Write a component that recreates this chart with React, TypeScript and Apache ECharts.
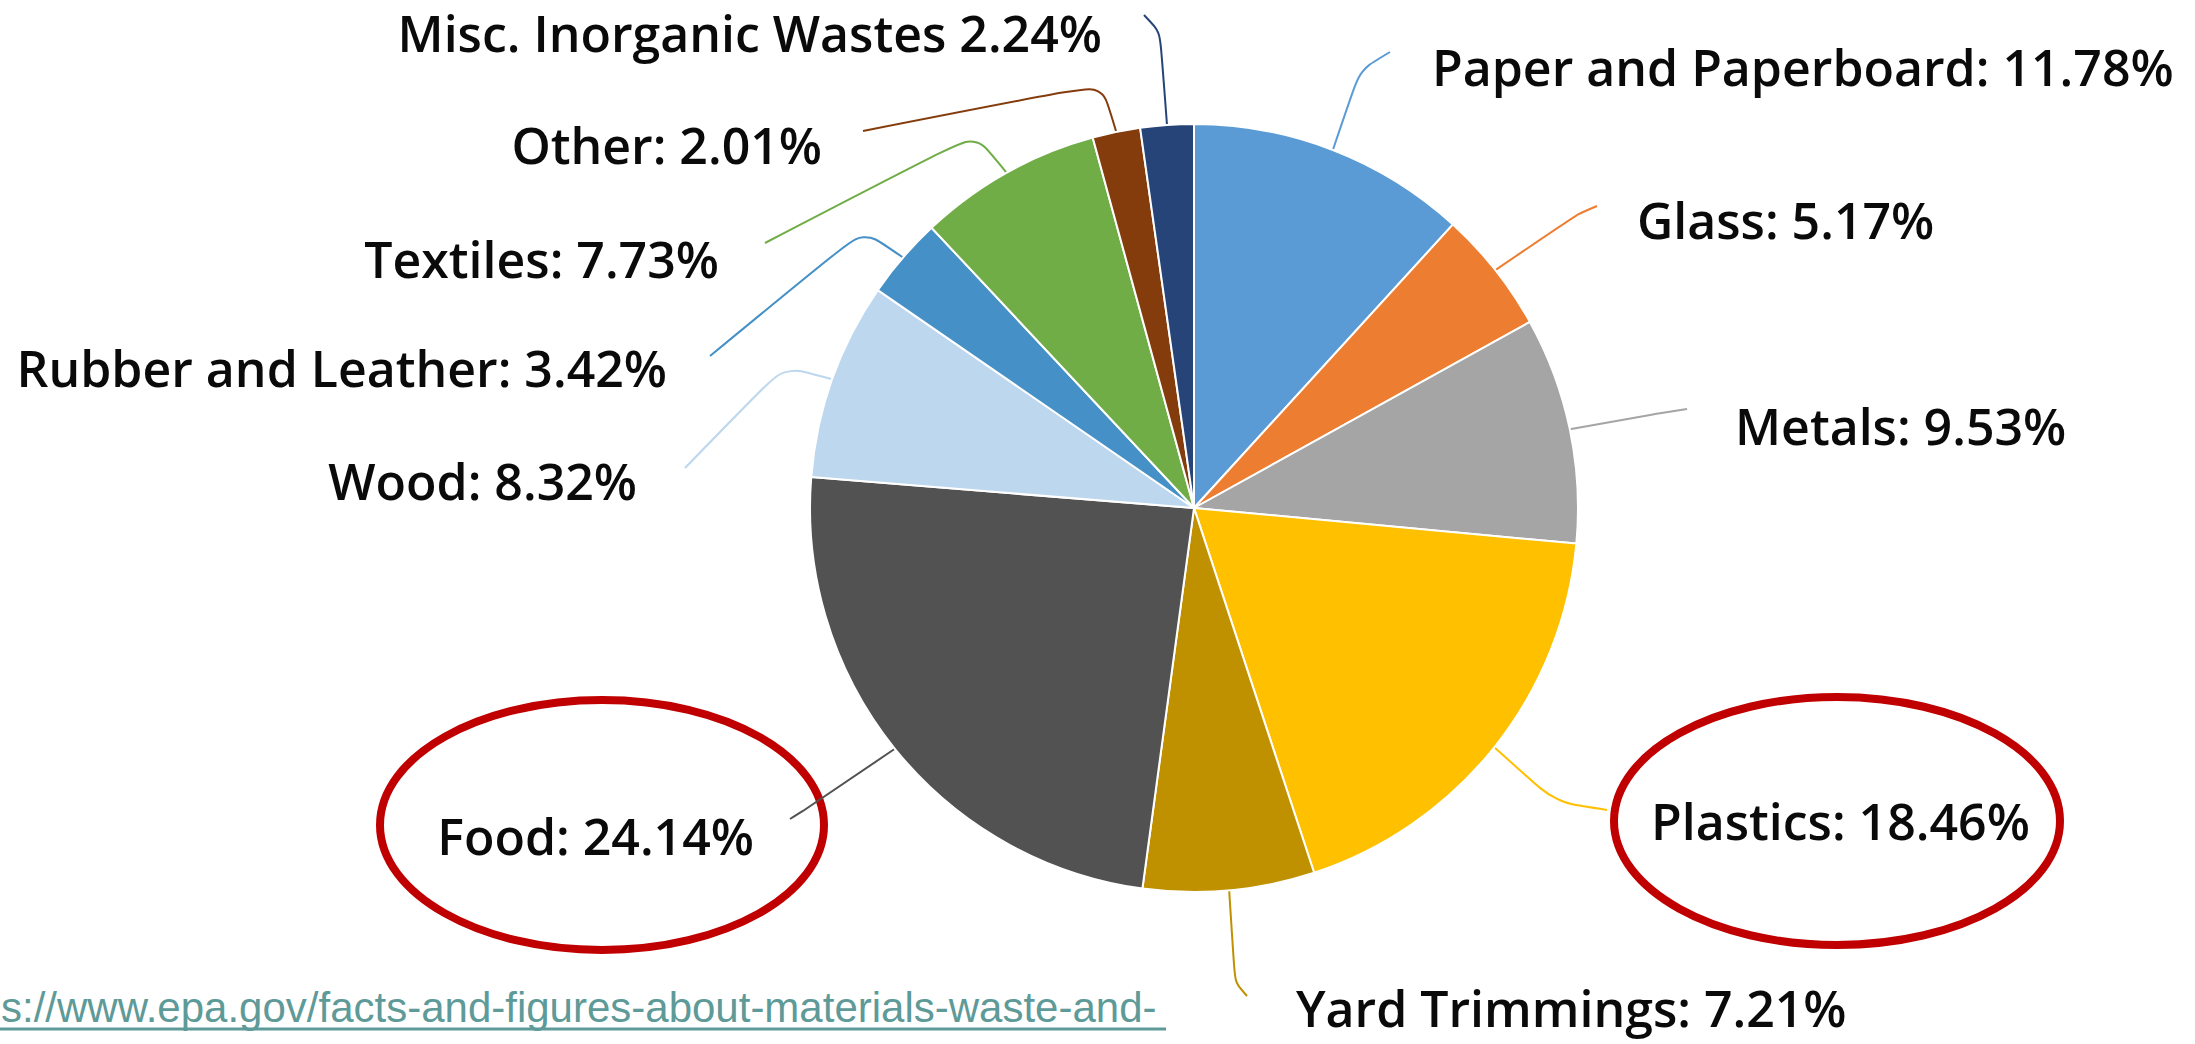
import React, { useEffect, useRef } from 'react';
import * as echarts from 'echarts';

// ---- data ----
const categories = [
  'Paper and Paperboard',
  'Glass',
  'Metals',
  'Plastics',
  'Yard Trimmings',
  'Food',
  'Wood',
  'Rubber and Leather',
  'Textiles',
  'Other',
  'Misc. Inorganic Wastes',
];
const shares = [11.78, 5.17, 9.53, 18.46, 7.21, 24.14, 8.32, 3.42, 7.73, 2.01, 2.24];
const separators = [': ', ': ', ': ', ': ', ': ', ': ', ': ', ': ', ': ', ': ', ' '];
const sliceColors = [
  '#5B9BD5', '#ED7D31', '#A5A5A5', '#FFC000', '#BF9000', '#525252',
  '#BDD7EE', '#4590C6', '#70AD47', '#843C0C', '#264478',
];
const sourceText = 's://www.epa.gov/facts-and-figures-about-materials-waste-and-';

// ---- layout (positions only) ----
const CX = 1194;
const CY = 508;
const R = 384;
// label anchor [x, y, align]
const labelAnchors: [number, number, string][] = [
  [1432, 67, 'left'],
  [1637, 220, 'left'],
  [1735, 426, 'left'],
  [1651, 821, 'left'],
  [1296, 1008, 'left'],
  [754, 836, 'right'],
  [637, 481, 'right'],
  [667, 368, 'right'],
  [719, 259, 'right'],
  [822, 145, 'right'],
  [1102, 33, 'right'],
];
// leader line: bend point, end point
const leaderBends: [number, number][] = [
  [1360, 70], [1578, 214], [1655, 414], [1555, 802], [1235, 982],
  [803, 811], [784, 366], [863, 230], [975, 134], [1102, 84], [1160, 32],
];
const leaderEnds: [number, number][] = [
  [1390, 52], [1597, 206], [1687, 409], [1607, 810], [1247, 996],
  [790, 819], [685, 468], [710, 356], [765, 243], [863, 131], [1144, 15],
];

export default function App() {
  const ref = useRef<HTMLDivElement>(null);
  useEffect(() => {
    if (!ref.current) return;
    const chart = echarts.init(ref.current, undefined, { renderer: 'svg' });
    const total = shares.reduce((a, b) => a + b, 0);
    const cum: number[] = [];
    let acc = 0;
    shares.forEach((v) => {
      cum.push(acc + v / 2);
      acc += v;
    });
    const edgePoint = (i: number): [number, number] => {
      const phi = (cum[i] / total) * Math.PI * 2;
      return [CX + R * Math.sin(phi), CY - R * Math.cos(phi)];
    };
    chart.setOption({
      animation: false,
      backgroundColor: '#ffffff',
      series: [
        {
          type: 'pie',
          center: [CX, CY],
          radius: R,
          startAngle: 90,
          clockwise: true,
          avoidLabelOverlap: false,
          itemStyle: { borderColor: '#ffffff', borderWidth: 2 },
          emphasis: { disabled: true },
          label: {
            show: true,
            fontFamily: 'Open Sans',
            fontWeight: 600,
            fontSize: 50,
            color: '#0a0a0a',
            formatter: (p: any) =>
              `${p.name}${separators[p.dataIndex]}${p.value.toFixed(2)}%`,
          },
          labelLine: { show: true, smooth: 0.25, lineStyle: { width: 2 } },
          labelLayout: (params: any) => {
            const i = params.dataIndex;
            const a = labelAnchors[i];
            return {
              x: a[0],
              y: a[1],
              align: a[2],
              verticalAlign: 'middle',
              labelLinePoints: [edgePoint(i), leaderBends[i], leaderEnds[i]],
            };
          },
          data: categories.map((name, i) => ({
            name,
            value: shares[i],
            itemStyle: { color: sliceColors[i] },
          })),
        },
      ],
      graphic: [
        {
          type: 'ellipse',
          shape: { cx: 602, cy: 825, rx: 222, ry: 125 },
          style: { fill: 'none', stroke: '#C00000', lineWidth: 8 },
        },
        {
          type: 'ellipse',
          shape: { cx: 1837, cy: 821, rx: 223, ry: 124 },
          style: { fill: 'none', stroke: '#C00000', lineWidth: 8 },
        },
        {
          type: 'text',
          x: 1,
          y: 1007,
          style: {
            text: sourceText,
            font: '42px "Liberation Sans"',
            fill: '#5E9A98',
            align: 'left',
            verticalAlign: 'middle',
          },
        },
        {
          type: 'line',
          shape: { x1: 0, y1: 1029, x2: 1166, y2: 1029 },
          style: { stroke: '#5E9A98', lineWidth: 3 },
        },
      ],
    });
    return () => chart.dispose();
  }, []);
  return (
    <div
      ref={ref}
      style={{ position: 'fixed', left: 0, top: 0, width: 2195, height: 1044 }}
    />
  );
}
